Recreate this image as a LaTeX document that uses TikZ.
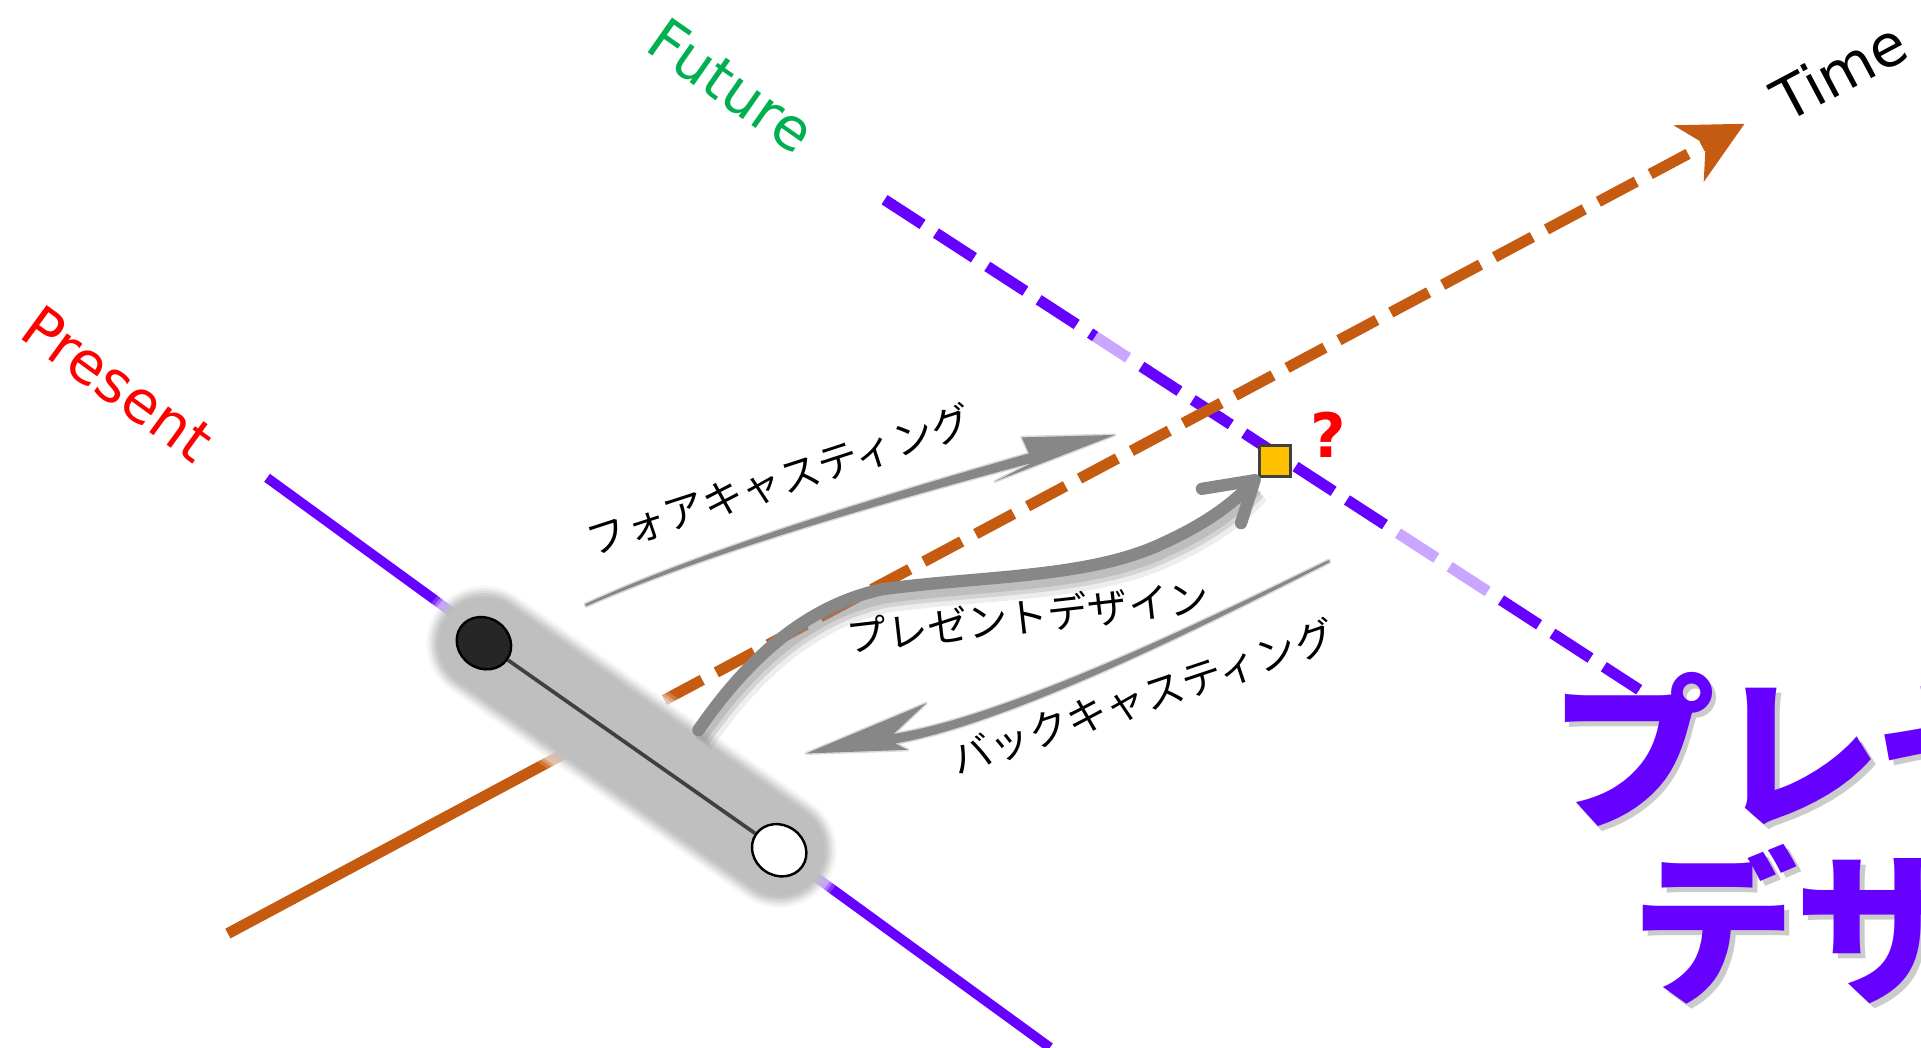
\documentclass[tikz,border=0pt]{standalone}
\usepackage{fontspec}
\usetikzlibrary{arrows.meta,shapes.geometric}
\newfontfamily\dejavu{DejaVu Sans}
\newfontfamily\jp{Noto Sans CJK JP}
\definecolor{purp}{HTML}{6600FF}
\definecolor{orng}{HTML}{C55A11}
\definecolor{grn}{HTML}{00B050}
\definecolor{agray}{HTML}{878787}
\definecolor{blobc}{HTML}{BFBFBF}
\definecolor{dk}{HTML}{404040}
\definecolor{yel}{HTML}{FFC000}
\definecolor{blk}{HTML}{262626}
\begin{document}
\begin{tikzpicture}[x=1pt,y=-1pt,
  axislab/.style={font=\dejavu\fontsize{47.5}{57}\selectfont, inner sep=0pt},
  jplab/.style={font=\jp\fontsize{33}{40}\selectfont, inner sep=0pt, text=black},
  bigtxt/.style={font=\jp\bfseries\fontsize{135}{142}\selectfont, inner sep=0pt, anchor=base west},
  presentline/.style={purp, line width=8pt},
  futureline/.style={purp, line width=9pt, dash pattern=on 37pt off 13pt},
  timeline/.style={orng, line width=9pt},
  pointnode/.style={ellipse, draw=black, line width=2pt, minimum width=46pt, minimum height=41pt, inner sep=0pt, rotate=-35},
  pdline/.style={agray, line width=10pt, line cap=round, line join=round},
  pdpath/.style={insert path={(570,596) .. controls (612,535) and (660,494) .. (720,481) .. controls (800,470) and (890,472) .. (950,443) .. controls (985,427) and (1008,410) .. (1024,392)}}
]
\useasboundingbox (0,0) rectangle (1568,855);
\clip (0,0) rectangle (1568,855);
\fill[white] (0,0) rectangle (1568,855);

% coordinates
\coordinate (pstart) at (218,390);
\coordinate (pend) at (857,855);
\coordinate (fstart) at (722,163);
\coordinate (fend) at (1338,563);
\coordinate (tstart) at (186,762);
\coordinate (tmid) at (500,594);
\coordinate (ttip) at (1424,101);
\coordinate (bA) at (395,525);
\coordinate (bB) at (636,694);

% axes
\draw[presentline] (pstart) -- (pend);
\draw[futureline] (fstart) -- (fend);
\draw[white, opacity=0.65, line width=11pt] (894.1,274.4) -- (923.5,293.4);
\draw[white, opacity=0.65, line width=11pt] (1141.8,434.7) -- (1224,488);
\draw[timeline] (tstart) -- (tmid);
\draw[timeline, dash pattern=on 35pt off 13pt, -{Stealth[length=51pt, width=51pt, inset=15pt]}] (tmid) -- (ttip);

% blurred blob
\foreach \w/\o in {108/0.2, 102/0.3, 97/0.35} {\draw[white, opacity=\o, line width=\w pt, line cap=round] (bA) -- (bB);}
\foreach \w/\o in {94/0.12, 90/0.2, 86/0.3, 82/0.45, 78/0.65} {\draw[blobc, opacity=\o, line width=\w pt, line cap=round] (bA) -- (bB);}
\draw[blobc, line width=74pt, line cap=round] (bA) -- (bB);

% points
\node[pointnode, fill=blk] (pb) at (bA) {};
\node[pointnode, fill=white] (pw) at (bB) {};
\draw[dk, line width=3pt] (pb) -- (pw);

% forecasting arrow
\fill[agray] (477.6,493.1) .. controls (579.4,446.3) and (740.0,398.5) .. (839.9,370.1) -- (834,357) -- (910,355) -- (812,393) -- (842.1,377.9) .. controls (742.0,404.5) and (580.6,449.7) .. (478.4,494.9) -- cycle;
\draw[agray, opacity=0.3, line width=2.5pt, line join=round] (477.6,493.1) .. controls (579.4,446.3) and (740.0,398.5) .. (839.9,370.1) -- (834,357) -- (910,355) -- (812,393) -- (842.1,377.9) .. controls (742.0,404.5) and (580.6,449.7) .. (478.4,494.9) -- cycle;

% backcasting arrow
\fill[agray] (1084.6,457.1) .. controls (999.4,498.3) and (828.0,583.5) .. (729.3,599.1) -- (756,574) -- (658,615) -- (741,612) -- (730.7,606.9) .. controls (829.2,589.7) and (1000.6,501.7) .. (1085.4,458.9) -- cycle;
\draw[agray, opacity=0.3, line width=2.5pt, line join=round] (1084.6,457.1) .. controls (999.4,498.3) and (828.0,583.5) .. (729.3,599.1) -- (756,574) -- (658,615) -- (741,612) -- (730.7,606.9) .. controls (829.2,589.7) and (1000.6,501.7) .. (1085.4,458.9) -- cycle;

% square target
\node[draw=dk, fill=yel, line width=2.5pt, minimum size=25pt, inner sep=0pt] (sq) at (1040.5,376.5) {};
\coordinate (pdtip) at (1024,392);

% present design arrow with soft shadow below
\draw[black!45, opacity=0.15, line width=16pt, line cap=butt, shift={(4,11)}, pdpath];
\draw[black!45, opacity=0.25, line width=12pt, line cap=butt, shift={(3,9)}, pdpath];
\draw[black!45, opacity=0.3, line width=9pt, line cap=butt, shift={(2,7)}, pdpath];
\draw[pdline, pdpath];
\draw[pdline] (981,399) -- (pdtip) -- (1013,427);

% labels
\node[axislab, text=red, rotate=-36] (lpresent) at (96,313) {Present};
\node[axislab, text=grn, rotate=-35] (lfuture) at (597,70) {Future};
\node[axislab, text=black, rotate=28] (ltime) at (1501,58) {Time};
\node[font=\dejavu\bfseries\fontsize{50}{60}\selectfont, text=red, inner sep=0pt] (lq) at (1084,355) {?};

\node[jplab, rotate=18] (lfore) at (636,392) {フォアキャスティング};
\node[jplab, rotate=6.5] (lpd) at (839,503) {プレゼントデザイン};
\node[jplab, rotate=18.5] (lback) at (933,569) {バックキャスティング};

% big title with shadow
\node[bigtxt, text=black!45, opacity=0.45] (t1s) at (1269,670) {プレゼント};
\node[bigtxt, text=black!45, opacity=0.45] (t2s) at (1336,812) {デザイン};
\node[bigtxt, text=purp] (t1) at (1265,666) {プレゼント};
\node[bigtxt, text=purp] (t2) at (1332,808) {デザイン};
\end{tikzpicture}
\end{document}
